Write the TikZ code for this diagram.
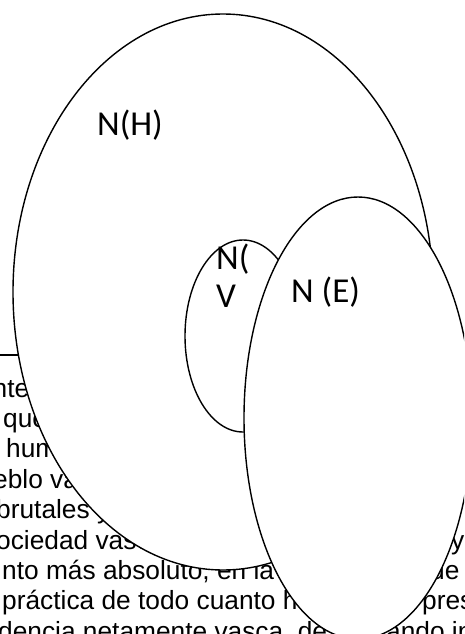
\documentclass[tikz,border=0pt]{standalone}
\usepackage{fontspec}
\setmainfont{Liberation Sans}
\newfontfamily\labelfont{Carlito}
\usetikzlibrary{shapes.geometric}

\begin{document}
\begin{tikzpicture}[
  x=1pt,y=-1pt,
  set/.style={draw,ellipse,line width=1.4pt,fill=white,inner sep=0pt},
  frag/.style={anchor=base west,inner sep=0pt,font=\fontsize{26.3}{30}\selectfont},
  lbl/.style={anchor=base west,inner sep=0pt,align=left,font=\labelfont\fontsize{35}{38}\selectfont}
]
\useasboundingbox (0,0) rectangle (464,634);
\clip (0,0) rectangle (464,634);
% text of the page behind the sets
\node[frag] (l1) at (-7.5,397) {nte};
\node[frag] (l2) at (3,427.4) {que};
\node[frag] (l3) at (6,457.8) {hum};
\node[frag] (l4) at (-7,488.2) {eblo va};
\node[frag] (l5) at (-4,518.6) {brutales y};
\node[frag] (l6) at (-4,549) {ociedad vasc};
\node[frag] (l7) at (2,579.4) {nto más absoluto, en la};
\node[frag] (l8) at (2,609.8) {práctica de todo cuanto h};
\node[frag] (l9) at (-2,640.2) {dencia netamente vasca, de};
\node[frag] (r6) at (451,549) {y};
\node[frag] (r7) at (430,579.4) {de};
\node[frag] (r8) at (422,609.8) {pres};
\node[frag] (r9) at (386,640.2) {ando in};
\coordinate (rule) at (0,355);
\draw[line width=1.1pt] (rule) -- ++(30,0);
% the three sets
\node[set,minimum width=420,minimum height=556] (H) at (223,292) {};
\node[lbl] (labH) at (97,135) {N(H)};
\node[set,minimum width=116,minimum height=192] (V) at (243,336) {};
\node[lbl] (labV) at (216,307) {N(\\V};
\node[set,minimum width=228,minimum height=442] (E) at (358,418) {};
\node[lbl] (labE) at (291,302) {N (E)};
\end{tikzpicture}
\end{document}
